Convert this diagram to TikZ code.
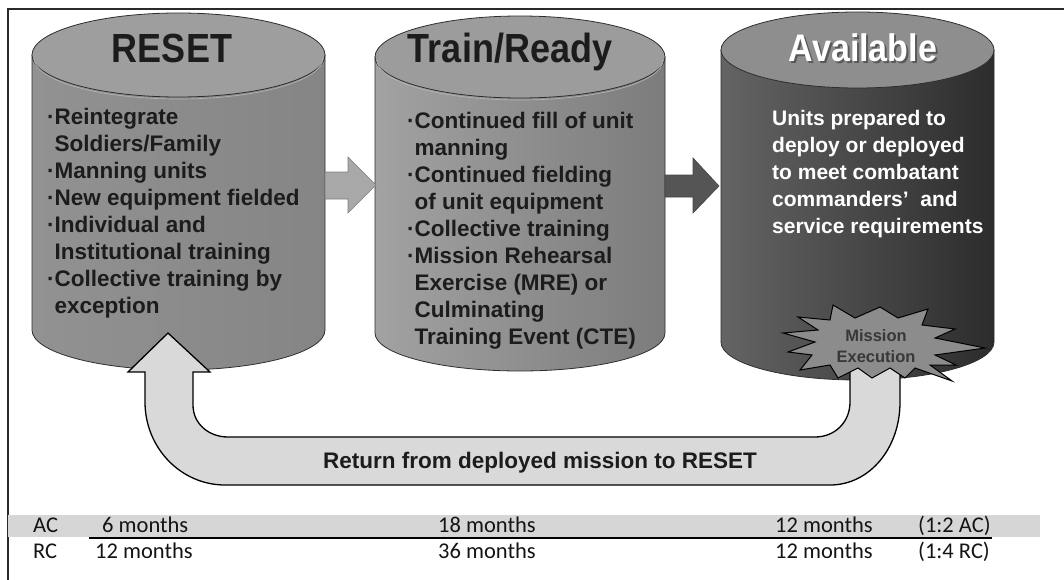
\documentclass[tikz,border=0pt]{standalone}
\usepackage{fontspec}
\usetikzlibrary{calc}
\setmainfont{Liberation Sans}
\newfontfamily\tablefont{Carlito}

\definecolor{frameline}{HTML}{2A2A2A}
\definecolor{edge}{HTML}{2E2E2E}
\definecolor{resetbodyL}{HTML}{929292}
\definecolor{resetbodyR}{HTML}{858585}
\definecolor{resettop}{HTML}{9E9E9E}
\definecolor{trainbodyL}{HTML}{A2A2A2}
\definecolor{trainbodyM}{HTML}{909090}
\definecolor{trainbodyR}{HTML}{7C7C7C}
\definecolor{traintop}{HTML}{9C9C9C}
\definecolor{availbodyL}{HTML}{646464}
\definecolor{availbodyM}{HTML}{3C3C3C}
\definecolor{availbodyR}{HTML}{2C2C2C}
\definecolor{availtop}{HTML}{8E8E8E}
\definecolor{lightarrow}{HTML}{A8A8A8}
\definecolor{darkarrow}{HTML}{555555}
\definecolor{returnfill}{HTML}{D9D9D9}
\definecolor{burstfill}{HTML}{8C8C8C}
\definecolor{bandgray}{HTML}{D6D6D6}
\definecolor{inktext}{HTML}{1C1C1C}

\newcommand{\bul}{\makebox[7.5pt][l]{·}}
\newcommand{\hang}{\hspace*{7.5pt}}
\newcommand{\tall}[1]{\scalebox{1}[1.13]{#1}}

\begin{document}
\begin{tikzpicture}[x=1pt,y=-1pt,
  outline/.style={draw=edge, line width=0.8pt},
  rim/.style={draw=white!70!black, line width=0.7pt},
  cyltitle/.style={font=\fontsize{36}{40}\selectfont\bfseries, anchor=base, inner sep=0pt, text=inktext},
  bodytext/.style={font=\fontsize{22.5}{27}\selectfont\bfseries, align=left, anchor=north west, inner sep=0pt, text=inktext},
  blockarrow/.style={line width=0.6pt},
  tabletext/.style={font=\tablefont\fontsize{22.5}{24}\selectfont, anchor=base west, inner sep=0pt, text=black!92}
]
\useasboundingbox (0,0) rectangle (1064,580);
\fill[white] (0,0) rectangle (1064,580);

% frame lines
\coordinate (frameBL) at (8,580);
\coordinate (frameTL) at (8,9);
\coordinate (frameTR) at (1064,9);
\draw[frameline, line width=2pt] (frameBL) -- (frameTL) -- (frameTR);

% ---------- RESET cylinder ----------
\path[outline, left color=resetbodyL, right color=resetbodyR]
  (32,55) -- (32,330) arc[start angle=180, end angle=0, x radius=146.5, y radius=40] -- (325,55) -- cycle;
\path[outline, fill=resettop] (178.5,55) ellipse[x radius=146.5, y radius=42];
\draw[rim] (34,58) arc[start angle=180, end angle=0, x radius=144.5, y radius=41];
\node[cyltitle] (resetTitle) at (172,63) {\tall{RESET}};
\node[bodytext] (resetText) at (47,108) {\bul Reintegrate\\\hang Soldiers/Family\\\bul Manning units\\\bul New equipment fielded\\\bul Individual and\\\hang Institutional training\\\bul Collective training by\\\hang exception};

% ---------- Train/Ready cylinder ----------
\path[outline, left color=trainbodyL, middle color=trainbodyM, right color=trainbodyR]
  (375,57) -- (375,333) arc[start angle=180, end angle=0, x radius=145, y radius=38] -- (665,57) -- cycle;
\path[outline, fill=traintop] (520,57) ellipse[x radius=145, y radius=41];
\draw[rim] (377,60) arc[start angle=180, end angle=0, x radius=143, y radius=40];
\node[cyltitle] (trainTitle) at (510,63) {\tall{Train/Ready}};
\node[bodytext] (trainText) at (407,112) {\bul Continued fill of unit\\\hang manning\\\bul Continued fielding\\\hang of unit equipment\\\bul Collective training\\\bul Mission Rehearsal\\\hang Exercise (MRE) or\\\hang Culminating\\\hang Training Event (CTE)};

% ---------- Available cylinder ----------
\path[outline, left color=availbodyL, middle color=availbodyM, right color=availbodyR]
  (721,50) -- (721,342) arc[start angle=180, end angle=0, x radius=136.5, y radius=38] -- (994,50) -- cycle;
\path[outline, fill=availtop] (857.5,50) ellipse[x radius=136.5, y radius=38];
\node[cyltitle, font=\fontsize{34}{38}\selectfont\bfseries, text=black!65] (availShadow) at (865,64) {\tall{Available}};
\node[cyltitle, font=\fontsize{34}{38}\selectfont\bfseries, text=white] (availTitle) at (863,62) {\tall{Available}};
\node[bodytext, font=\fontsize{21}{27}\selectfont\bfseries, text=white] (availText) at (772,110) {Units prepared to\\deploy or deployed\\to meet combatant\\commanders’~ and\\service requirements};

% ---------- block arrows between stages ----------
\coordinate (a1s) at (325,185);
\coordinate (a1t) at (376,185);
\path[blockarrow, draw=gray, fill=lightarrow]
  ($(a1s)+(0,-13)$) -- (348,172) -- (348,157) -- (a1t) -- (348,213) -- (348,199) -- ($(a1s)+(0,14)$) -- cycle;
\coordinate (a2s) at (665,186);
\coordinate (a2t) at (719,186);
\path[blockarrow, draw=darkarrow!80!black, fill=darkarrow]
  ($(a2s)+(0,-11)$) -- (693,175) -- (693,158) -- (a2t) -- (693,213) -- (693,197) -- ($(a2s)+(0,11)$) -- cycle;

% ---------- return arrow ----------
\coordinate (retTip) at (168,333);
\path[draw=black, line width=1.3pt, fill=returnfill]
  (retTip) -- (210,372) -- (193,372) -- (193,405)
  .. controls (193,424) and (209,437) .. (228,437) -- (815,437)
  .. controls (835,437) and (850,422) .. (850,402) -- (850,360) -- (900,360) -- (900,402)
  .. controls (900,449) and (869,485) .. (830,485) -- (225,485)
  .. controls (181,485) and (145,448) .. (145,402) -- (145,372) -- (128,372) -- cycle;
\node[font=\fontsize{22.5}{26}\selectfont\bfseries, text=inktext, inner sep=0pt, anchor=base] (returnLabel) at (540,468) {Return from deployed mission to RESET};

% ---------- mission execution burst ----------
\path[draw=black, line width=1pt, fill=burstfill, line join=miter]
  (783,333) -- (818,330) -- (798,317) -- (830,320) -- (833,305) -- (855,318) -- (880,307)
  -- (898,318) -- (928,309) -- (922,325) -- (955,329) -- (935,338) -- (985,348) -- (935,355)
  -- (956,365) -- (930,365) -- (952,381) -- (915,368) -- (905,378) -- (890,368) -- (872,378)
  -- (858,368) -- (838,378) -- (830,365) -- (800,370) -- (812,355) -- (788,352) -- (815,342) -- cycle;
\node[font=\fontsize{16.5}{21}\selectfont\bfseries, text=black!78, align=center, inner sep=0pt] (burstText) at (876,346) {Mission\\Execution};

% ---------- AC / RC table ----------
\fill[bandgray] (8,515) rectangle (1040,537);
\coordinate (ruleL) at (89,538);
\coordinate (ruleR) at (992,538);
\draw[black, line width=1.2pt] (ruleL) -- (ruleR);

\node[tabletext] (acLabel) at (33,532) {AC};
\node[tabletext] (acReset) at (102,532) {6 months};
\node[tabletext] (acTrain) at (438,532) {18 months};
\node[tabletext] (acAvail) at (775,532) {12 months};
\node[tabletext] (acRatio) at (918,532) {(1:2 AC)};

\node[tabletext] (rcLabel) at (33,558) {RC};
\node[tabletext] (rcReset) at (95,558) {12 months};
\node[tabletext] (rcTrain) at (438,558) {36 months};
\node[tabletext] (rcAvail) at (775,558) {12 months};
\node[tabletext] (rcRatio) at (918,558) {(1:4 RC)};
\end{tikzpicture}
\end{document}
